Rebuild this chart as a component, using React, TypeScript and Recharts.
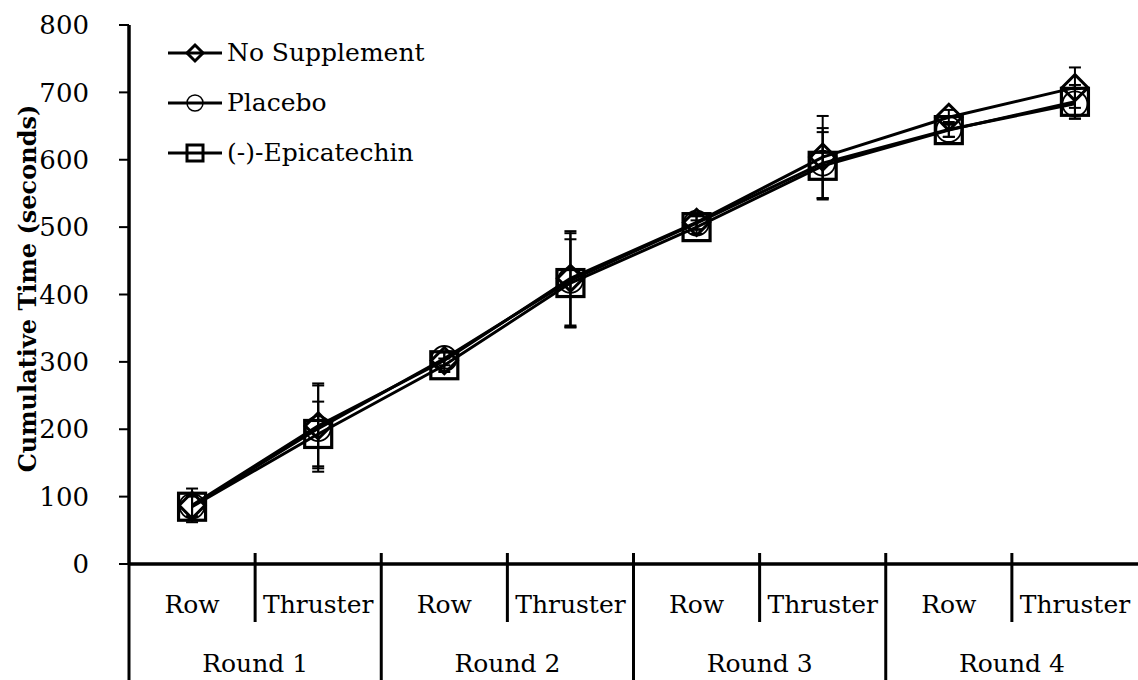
import React from 'react';
import { LineChart, Line, XAxis, YAxis, ErrorBar, Legend, Label } from 'recharts';

const categories = ['Row', 'Thruster', 'Row', 'Thruster', 'Row', 'Thruster', 'Row', 'Thruster'];
const rounds = ['Round 1', 'Round 2', 'Round 3', 'Round 4'];
const yTicks = [0, 100, 200, 300, 400, 500, 600, 700, 800];
const seriesNames = ['No Supplement', 'Placebo', '(-)-Epicatechin'];

const noSupplement = [87, 205, 302, 424, 507, 604, 663, 707];
const noSupplementSD = [25, 63, 12, 70, 10, 61, 11, 30];
const placebo = [86, 201, 305, 421, 506, 595, 645, 683];
const placeboSD = [15, 64, 10, 70, 10, 52, 11, 22];
const epicatechin = [85, 193, 295, 417, 500, 591, 644, 686];
const epicatechinSD = [15, 48, 10, 65, 10, 50, 10, 25];

const data = categories.map((c, i) => ({
  key: `${rounds[Math.floor(i / 2)]} ${c}`,
  ns: noSupplement[i],
  nsErr: noSupplementSD[i],
  pl: placebo[i],
  plErr: placeboSD[i],
  ep: epicatechin[i],
  epErr: epicatechinSD[i],
}));

const FONT = '"DejaVu Serif", serif';
const W = 1138;
const H = 680;
const AXIS_W = 129;
const HALF_BAND = (W - AXIS_W) / categories.length / 2;

const Diamond = ({ cx, cy, r, sw }: any) => (
  <polygon
    points={`${cx},${cy - r} ${cx + r},${cy} ${cx},${cy + r} ${cx - r},${cy}`}
    fill="none"
    stroke="#000"
    strokeWidth={sw}
  />
);
const Circ = ({ cx, cy, r, sw }: any) => (
  <circle cx={cx} cy={cy} r={r} fill="none" stroke="#000" strokeWidth={sw} />
);
const Sq = ({ cx, cy, r, sw }: any) => (
  <rect x={cx - r} y={cy - r} width={2 * r} height={2 * r} fill="none" stroke="#000" strokeWidth={sw} />
);

const markers = [Diamond, Circ, Sq];

const XTick = (props: any) => {
  const { x, y, payload } = props;
  const i = payload.index;
  const half = HALF_BAND;
  const isRow = i % 2 === 0;
  return (
    <g>
      <text x={x} y={y + 49} textAnchor="middle" fontFamily={FONT} fontSize={25} fill="#000">
        {categories[i]}
      </text>
      {i === 0 && (
        <line x1={x - half} x2={x - half} y1={y} y2={H} stroke="#000" strokeWidth={3} />
      )}
      {isRow ? (
        <>
          <line x1={x + half} x2={x + half} y1={y - 11} y2={y + 58} stroke="#000" strokeWidth={3} />
          <text x={x + half} y={y + 108} textAnchor="middle" fontFamily={FONT} fontSize={25} fill="#000">
            {rounds[Math.floor(i / 2)]}
          </text>
        </>
      ) : (
        i < categories.length - 1 && (
          <line x1={x + half} x2={x + half} y1={y - 11} y2={H} stroke="#000" strokeWidth={3} />
        )
      )}
    </g>
  );
};

const LegendContent = () => (
  <svg width={320} height={150} style={{ overflow: 'visible' }}>
    {seriesNames.map((name, i) => {
      const M = markers[i];
      const cy = 25 + i * 50;
      return (
        <g key={name}>
          <line x1={0} x2={54} y1={cy} y2={cy} stroke="#000" strokeWidth={3} />
          <M cx={27} cy={cy} r={8} sw={i === 1 ? 1.5 : 3} />
          <text x={59} y={cy + 8} fontFamily={FONT} fontSize={25} fill="#000">
            {name}
          </text>
        </g>
      );
    })}
  </svg>
);

const YLabel = (props: any) => {
  const vb = props.viewBox || { x: 0, y: 25, width: AXIS_W, height: 539 };
  const cx = 27;
  const cy = vb.y + vb.height / 2 - 6;
  return (
    <text
      x={cx}
      y={cy}
      transform={`rotate(-90, ${cx}, ${cy})`}
      textAnchor="middle"
      dominantBaseline="central"
      fontFamily={FONT}
      fontWeight="bold"
      fontSize={24}
      fill="#000"
    >
      Cumulative Time (seconds)
    </text>
  );
};

const keys: [string, string][] = [
  ['ns', 'nsErr'],
  ['pl', 'plErr'],
  ['ep', 'epErr'],
];
const markerSize = [13, 12.5, 13.5];
const markerStroke = [3, 1.8, 3.2];

export default function App() {
  return (
    <div style={{ position: 'absolute', left: 0, top: 0, width: W, height: H, background: '#fff' }}>
      <LineChart width={W} height={H} data={data} margin={{ top: 25, right: 0, bottom: 0, left: 0 }}>
        <XAxis
          dataKey="key"
          scale="band"
          height={116}
          tick={<XTick />}
          tickLine={false}
          tickSize={0}
          tickMargin={0}
          interval={0}
          axisLine={{ stroke: '#000', strokeWidth: 3.5 }}
        />
        <YAxis
          width={AXIS_W}
          domain={[0, 800]}
          ticks={yTicks}
          interval={0}
          tickSize={10}
          tickMargin={30}
          tick={{ fontFamily: FONT, fontSize: 26, fill: '#000' }}
          tickLine={{ stroke: '#000', strokeWidth: 2 }}
          axisLine={{ stroke: '#000', strokeWidth: 3.5 }}
        >
          <Label content={<YLabel />} />
        </YAxis>
        <Legend
          layout="horizontal"
          verticalAlign="middle"
          align="center"
          content={<LegendContent />}
          wrapperStyle={{ left: 168, top: 28, width: 320, height: 150 }}
        />
        {keys.map(([k, e], si) => {
          const M = markers[si];
          return (
            <Line
              key={k}
              dataKey={k}
              name={seriesNames[si]}
              type="linear"
              stroke="#000"
              strokeWidth={3}
              isAnimationActive={false}
              activeDot={false}
              dot={(p: any) => (
                <M key={`${k}-${p.index}`} cx={p.cx} cy={p.cy} r={markerSize[si]} sw={markerStroke[si]} />
              )}
            >
              <ErrorBar dataKey={e} direction="y" width={6} strokeWidth={2} stroke="#000" isAnimationActive={false} />
            </Line>
          );
        })}
      </LineChart>
    </div>
  );
}
